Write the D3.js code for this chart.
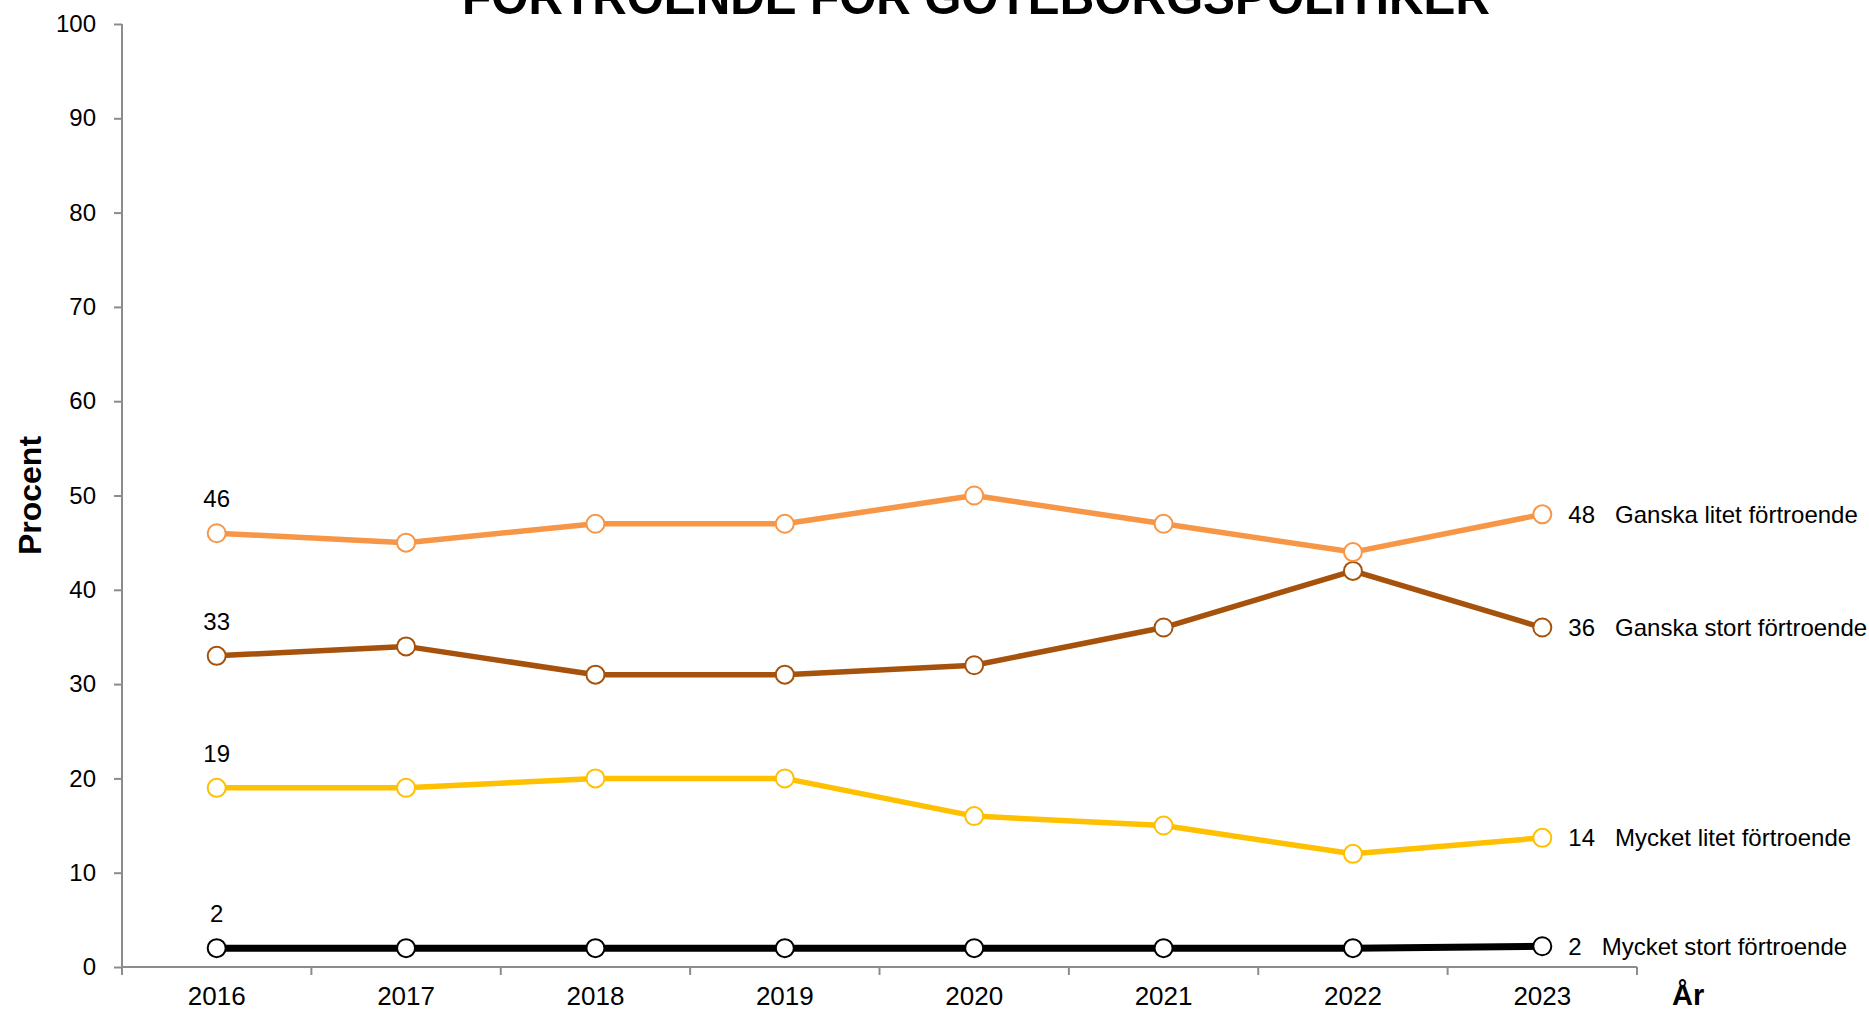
<!DOCTYPE html>
<html>
<head>
<meta charset="utf-8">
<script src="https://cdn.jsdelivr.net/npm/d3@7"></script>
<style>
  body { margin: 0; background: #fff; }
  text { font-family: "Liberation Sans", Arial, sans-serif; fill: #000; }
  .title { font-family: "Liberation Sans Narrow", "Arial Narrow", "Liberation Sans", sans-serif; font-weight: bold; }
  .end-label { white-space: pre; }
</style>
</head>
<body>
<svg class="canvas"></svg>
<script>
// *** DATA ***
var years = ["2016", "2017", "2018", "2019", "2020", "2021", "2022", "2023"];
var yTicks = [0, 10, 20, 30, 40, 50, 60, 70, 80, 90, 100];

var ganskaLitet = [46, 45, 47, 47, 50, 47, 44, 48];
var ganskaStort = [33, 34, 31, 31, 32, 36, 42, 36];
var mycketLitet = [19, 19, 20, 20, 16, 15, 12, 13.7];
var mycketStort = [2, 2, 2, 2, 2, 2, 2, 2.2];

var seriesNames = ["Mycket litet förtroende", "Ganska stort förtroende", "Ganska litet förtroende", "Mycket stort förtroende"];
var seriesValues = [mycketLitet, ganskaStort, ganskaLitet, mycketStort];

var title = "FÖRTROENDE FÖR GÖTEBORGSPOLITIKER";

// *** SVG STUFF ***
// --- Constants ---
var width = 1869;
var height = 1011;
var margin = { top: 24, right: 232, bottom: 44, left: 122 };

function color(name) {
  var colors = {
    "Ganska litet förtroende": "#f79646",
    "Ganska stort förtroende": "#a6520c",
    "Mycket litet förtroende": "#ffc000",
    "Mycket stort förtroende": "#000000"
  };
  return colors[name];
}

var svg = d3.select(".canvas")
  .attr("width", width)
  .attr("height", height);

var x = d3.scaleBand()
  .domain(years)
  .range([margin.left, width - margin.right])
  .padding(0);

var y = d3.scaleLinear()
  .domain([0, 100])
  .range([height - margin.bottom, margin.top]);

function cx(year) { return x(year) + x.bandwidth() / 2; }

// --- Axes ---
var axisColor = "#8c8c8c";

var yAxis = svg.append("g")
  .attr("transform", "translate(" + margin.left + ",0)")
  .call(d3.axisLeft(y).tickValues(yTicks).tickSize(8).tickPadding(18));
yAxis.select(".domain").remove();
yAxis.selectAll("line").attr("stroke", axisColor).attr("stroke-width", 2);
yAxis.selectAll("text")
  .attr("font-family", "Liberation Sans, Arial, sans-serif")
  .style("font-size", "24px");

svg.append("line")
  .attr("x1", margin.left).attr("x2", margin.left)
  .attr("y1", y(100)).attr("y2", y(0))
  .attr("stroke", axisColor).attr("stroke-width", 2);

var xAxis = svg.append("g")
  .attr("transform", "translate(0," + y(0) + ")")
  .call(d3.axisBottom(x).tickSize(0).tickPadding(20));
xAxis.select(".domain").remove();
xAxis.selectAll("text")
  .attr("font-family", "Liberation Sans, Arial, sans-serif")
  .style("font-size", "26px");

svg.append("line")
  .attr("x1", margin.left).attr("x2", width - margin.right)
  .attr("y1", y(0)).attr("y2", y(0))
  .attr("stroke", axisColor).attr("stroke-width", 2);

// ticks sit between the categories
var boundaries = years.map(function(d) { return x(d); }).concat([x(years[years.length - 1]) + x.bandwidth()]);
svg.selectAll("line.xtick")
  .data(boundaries)
  .enter()
    .append("line")
    .attr("class", "xtick")
    .attr("x1", function(d) { return d; })
    .attr("x2", function(d) { return d; })
    .attr("y1", y(0))
    .attr("y2", y(0) + 8)
    .attr("stroke", axisColor)
    .attr("stroke-width", 2);

// axis titles
svg.append("text")
  .attr("transform", "translate(" + 41 + "," + ((y(0) + y(100)) / 2) + ") rotate(-90)")
  .attr("text-anchor", "middle")
  .style("font-size", "32px")
  .style("font-weight", "bold")
  .text("Procent");

svg.append("text")
  .attr("x", 1672)
  .attr("y", 1005)
  .style("font-size", "29px")
  .style("font-weight", "bold")
  .text("År");

// title, clipped at the top like the original
svg.append("text")
  .attr("class", "title")
  .attr("x", 462)
  .attr("y", 14)
  .attr("textLength", 1028)
  .attr("lengthAdjust", "spacingAndGlyphs")
  .style("font-size", "50px")
  .text(title);

// --- Series ---
var line = d3.line()
  .x(function(d, i) { return cx(years[i]); })
  .y(function(d) { return y(d); });

var fmt = d3.format(".0f");

seriesNames.forEach(function(name, s) {
  var values = seriesValues[s];
  var g = svg.append("g").attr("class", "series");

  g.append("path")
    .attr("d", line(values))
    .attr("fill", "none")
    .attr("stroke", color(name))
    .attr("stroke-width", name == "Mycket stort förtroende" ? 7 : 5.5)
    .attr("stroke-linejoin", "round");

  g.selectAll("circle")
    .data(values)
    .enter()
      .append("circle")
      .attr("cx", function(d, i) { return cx(years[i]); })
      .attr("cy", function(d) { return y(d); })
      .attr("r", 9)
      .attr("fill", "white")
      .attr("stroke", color(name))
      .attr("stroke-width", 2);

  // first value above the point
  g.append("text")
    .attr("x", cx(years[0]))
    .attr("y", y(values[0]) - 26)
    .attr("text-anchor", "middle")
    .style("font-size", "24px")
    .text(fmt(values[0]));

  // last value + series name to the right
  var last = values.length - 1;
  g.append("text")
    .attr("class", "end-label")
    .attr("x", cx(years[last]) + 26)
    .attr("y", y(values[last]))
    .attr("dy", "0.35em")
    .style("font-size", "24px")
    .text(fmt(values[last]) + "   " + name);
});
</script>
</body>
</html>
